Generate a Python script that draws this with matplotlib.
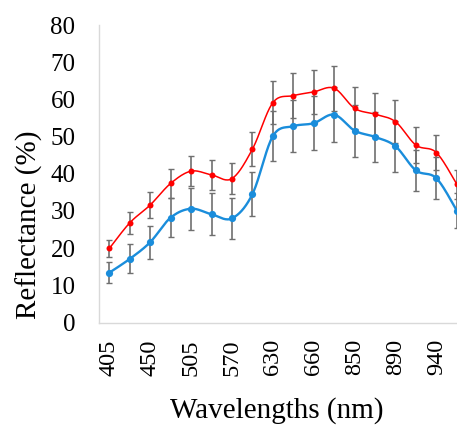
import numpy as np
import matplotlib
matplotlib.use("Agg")
import matplotlib.pyplot as plt

# ---- data ----
wavelengths = ["405", "430", "450", "480", "505", "535", "570", "600", "630",
               "645", "660", "680", "850", "870", "890", "910", "940", "970"]
tick_labels = ["405", "450", "505", "570", "630", "660", "850", "890", "940"]
red_values = [19.9, 26.8, 31.6, 37.4, 40.7, 39.7, 38.7, 46.6, 59.1,
              61.0, 62.0, 63.0, 57.6, 56.0, 54.0, 47.7, 45.7, 37.2]
red_err = [2.2, 3.0, 3.5, 3.8, 4.0, 4.0, 4.1, 4.5, 5.8,
           6.0, 6.0, 6.0, 5.6, 5.8, 5.7, 4.8, 4.8, 3.9]
blue_values = [13.4, 17.1, 21.6, 28.2, 30.6, 29.1, 28.0, 34.5, 50.1,
               52.8, 53.6, 55.9, 51.6, 49.9, 47.4, 40.9, 38.8, 30.1]
blue_err = [2.9, 3.9, 4.4, 5.2, 5.6, 5.6, 5.6, 5.9, 6.8,
            7.0, 7.2, 7.3, 7.0, 6.8, 6.8, 5.6, 5.6, 4.8]

RED = "#ff0000"
BLUE = "#1a8ddb"
GRAY = "#6f6f6f"


def smooth(x, y, n=20):
    """Catmull-Rom style smoothing (like Excel's smoothed line)."""
    x = np.asarray(x, float)
    y = np.asarray(y, float)
    xs, ys = [], []
    for i in range(len(x) - 1):
        p0 = (x[i - 1], y[i - 1]) if i > 0 else (x[i], y[i])
        p1 = (x[i], y[i])
        p2 = (x[i + 1], y[i + 1])
        p3 = (x[i + 2], y[i + 2]) if i + 2 < len(x) else (x[i + 1], y[i + 1])
        c1 = (p1[0] + (p2[0] - p0[0]) / 6, p1[1] + (p2[1] - p0[1]) / 6)
        c2 = (p2[0] - (p3[0] - p1[0]) / 6, p2[1] - (p3[1] - p1[1]) / 6)
        t = np.linspace(0, 1, n)
        bx = ((1 - t) ** 3 * p1[0] + 3 * (1 - t) ** 2 * t * c1[0]
              + 3 * (1 - t) * t ** 2 * c2[0] + t ** 3 * p2[0])
        by = ((1 - t) ** 3 * p1[1] + 3 * (1 - t) ** 2 * t * c1[1]
              + 3 * (1 - t) * t ** 2 * c2[1] + t ** 3 * p2[1])
        xs.extend(bx)
        ys.extend(by)
    return np.array(xs), np.array(ys)


plt.rcParams["font.family"] = ["Liberation Serif", "DejaVu Serif"]

W, H = 457, 426
fig = plt.figure(figsize=(W / 100, H / 100), dpi=100)
left_px, right_px, top_px, bottom_px = 99.1, 467.0, 25.0, 322.5
ax = fig.add_axes([left_px / W, 1 - bottom_px / H,
                   (right_px - left_px) / W, (bottom_px - top_px) / H])

x = np.arange(len(wavelengths))

for vals, col, lw in [(red_values, RED, 1.1), (blue_values, BLUE, 1.7)]:
    sx, sy = smooth(x, vals)
    ax.plot(sx, sy, color=col, lw=lw, zorder=2)

for vals, errs in [(red_values, red_err), (blue_values, blue_err)]:
    ax.errorbar(x, vals, yerr=errs, fmt="none", ecolor=GRAY, elinewidth=1.2,
                capsize=2.2, capthick=1.0, zorder=3)

ax.plot(x, red_values, "o", color=RED, ms=4.3, zorder=4, mec="none")
ax.plot(x, blue_values, "o", color=BLUE, ms=5.2, zorder=4, mec="none")

ax.set_xlim(-0.5, len(wavelengths) - 0.5)
ax.set_ylim(0, 80)
ax.set_yticks(np.arange(0, 81, 10))
ax.set_xticks(x[::2])
ax.set_xticklabels(tick_labels, rotation=90)
ax.tick_params(axis="both", length=0, colors="black")
ax.tick_params(axis="y", pad=17, labelsize=18)
ax.tick_params(axis="x", pad=12, labelsize=17.5)

for s in ["top", "right"]:
    ax.spines[s].set_visible(False)
for s in ["left", "bottom"]:
    ax.spines[s].set_color("#d9d9d9")
    ax.spines[s].set_linewidth(1.0)

fig.text(277 / W, 1 - 418 / H, "Wavelengths (nm)", ha="center", va="baseline",
         fontsize=21)
fig.text(29 / W, 1 - 225 / H, "Reflectance (%)", ha="center", va="center",
         rotation=90, fontsize=21)

fig.savefig("out.png", dpi=100)
